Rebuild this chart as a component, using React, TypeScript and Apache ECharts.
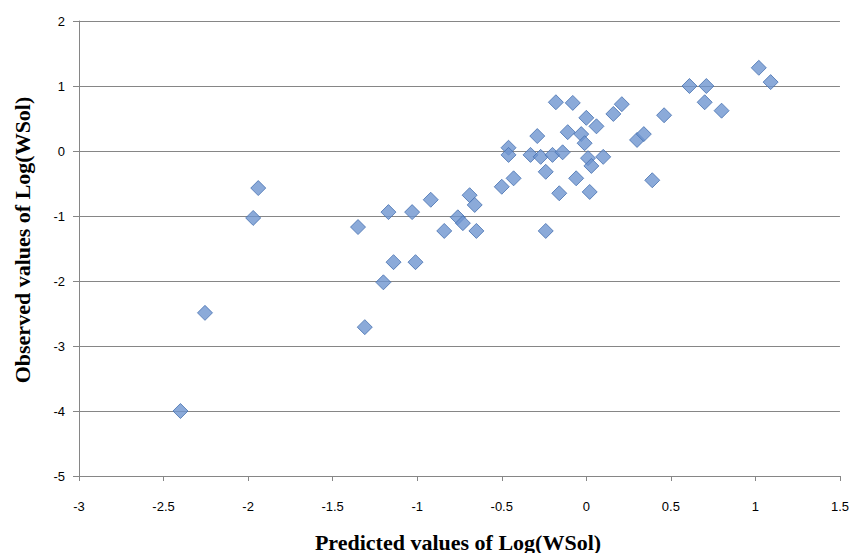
import React, { useEffect, useRef } from "react";
import * as echarts from "echarts";

const predicted: number[] = [
  -2.40, -2.255, -1.97, -1.94, -1.35, -1.31, -1.20, -1.17, -1.14, -1.03,
  -1.01, -0.92, -0.84, -0.76, -0.73, -0.69, -0.66, -0.65, -0.50, -0.46,
  -0.46, -0.43, -0.29, -0.33, -0.27, -0.24, -0.24, -0.18, -0.20, -0.16,
  -0.14, -0.11, -0.08, -0.06, -0.03, -0.01, 0.00, 0.01, 0.02, 0.03,
  0.06, 0.10, 0.16, 0.21, 0.30, 0.34, 0.39, 0.46, 0.61, 0.70,
  0.71, 0.80, 1.02, 1.09,
];
const observed: number[] = [
  -4.00, -2.49, -1.03, -0.57, -1.17, -2.71, -2.02, -0.94, -1.71, -0.94,
  -1.71, -0.75, -1.23, -1.02, -1.11, -0.68, -0.83, -1.23, -0.55, 0.05,
  -0.06, -0.42, 0.23, -0.06, -0.09, -0.32, -1.23, 0.75, -0.06, -0.65,
  -0.02, 0.29, 0.74, -0.42, 0.26, 0.12, 0.51, -0.11, -0.63, -0.23,
  0.38, -0.09, 0.57, 0.72, 0.17, 0.26, -0.45, 0.55, 1.00, 0.75,
  1.00, 0.62, 1.28, 1.06,
];

const xTitle = "Predicted values of Log(WSol)";
const yTitle = "Observed values of Log(WSol)";

export default function App() {
  const ref = useRef<HTMLDivElement>(null);
  useEffect(() => {
    if (!ref.current) return;
    const chart = echarts.init(ref.current, undefined, { renderer: "svg" });
    const data = predicted.map((x, i) => [x, observed[i]]);
    const axisLabel = { color: "#000", fontSize: 13, fontFamily: "Liberation Sans, Arial, sans-serif" };
    chart.setOption({
      animation: false,
      backgroundColor: "#fff",
      grid: { left: 79, right: 12, top: 21, bottom: 77, containLabel: false },
      xAxis: {
        type: "value",
        min: -3,
        max: 1.5,
        interval: 0.5,
        axisLine: { show: true, onZero: false, lineStyle: { color: "#868686", width: 1 } },
        axisTick: { show: true, length: 5, lineStyle: { color: "#868686" } },
        splitLine: { show: false },
        axisLabel: { ...axisLabel, margin: 24 },
      },
      yAxis: {
        type: "value",
        min: -5,
        max: 2,
        interval: 1,
        axisLine: { show: true, onZero: false, lineStyle: { color: "#868686", width: 1 } },
        axisTick: { show: true, length: 6, lineStyle: { color: "#868686" } },
        splitLine: { show: true, lineStyle: { color: "#868686", width: 1 } },
        axisLabel: { ...axisLabel, margin: 14 },
      },
      graphic: [
        {
          type: "text",
          x: 458,
          y: 542,
          style: {
            text: xTitle,
            align: "center",
            verticalAlign: "middle",
            font: "bold 22px 'Liberation Serif', 'Times New Roman', serif",
            fill: "#000",
          },
        },
        {
          type: "text",
          x: 22,
          y: 240,
          rotation: Math.PI / 2,
          style: {
            text: yTitle,
            align: "center",
            verticalAlign: "middle",
            font: "bold 22px 'Liberation Serif', 'Times New Roman', serif",
            fill: "#000",
          },
        },
      ],
      series: [
        {
          type: "scatter",
          data,
          symbol: "diamond",
          symbolSize: [15, 15],
          itemStyle: { color: "#6E95D0", borderColor: "#4670B0", borderWidth: 1 },
        },
      ],
    });
    return () => chart.dispose();
  }, []);
  return <div ref={ref} style={{ width: 852, height: 553, position: "absolute", left: 0, top: 0 }} />;
}
